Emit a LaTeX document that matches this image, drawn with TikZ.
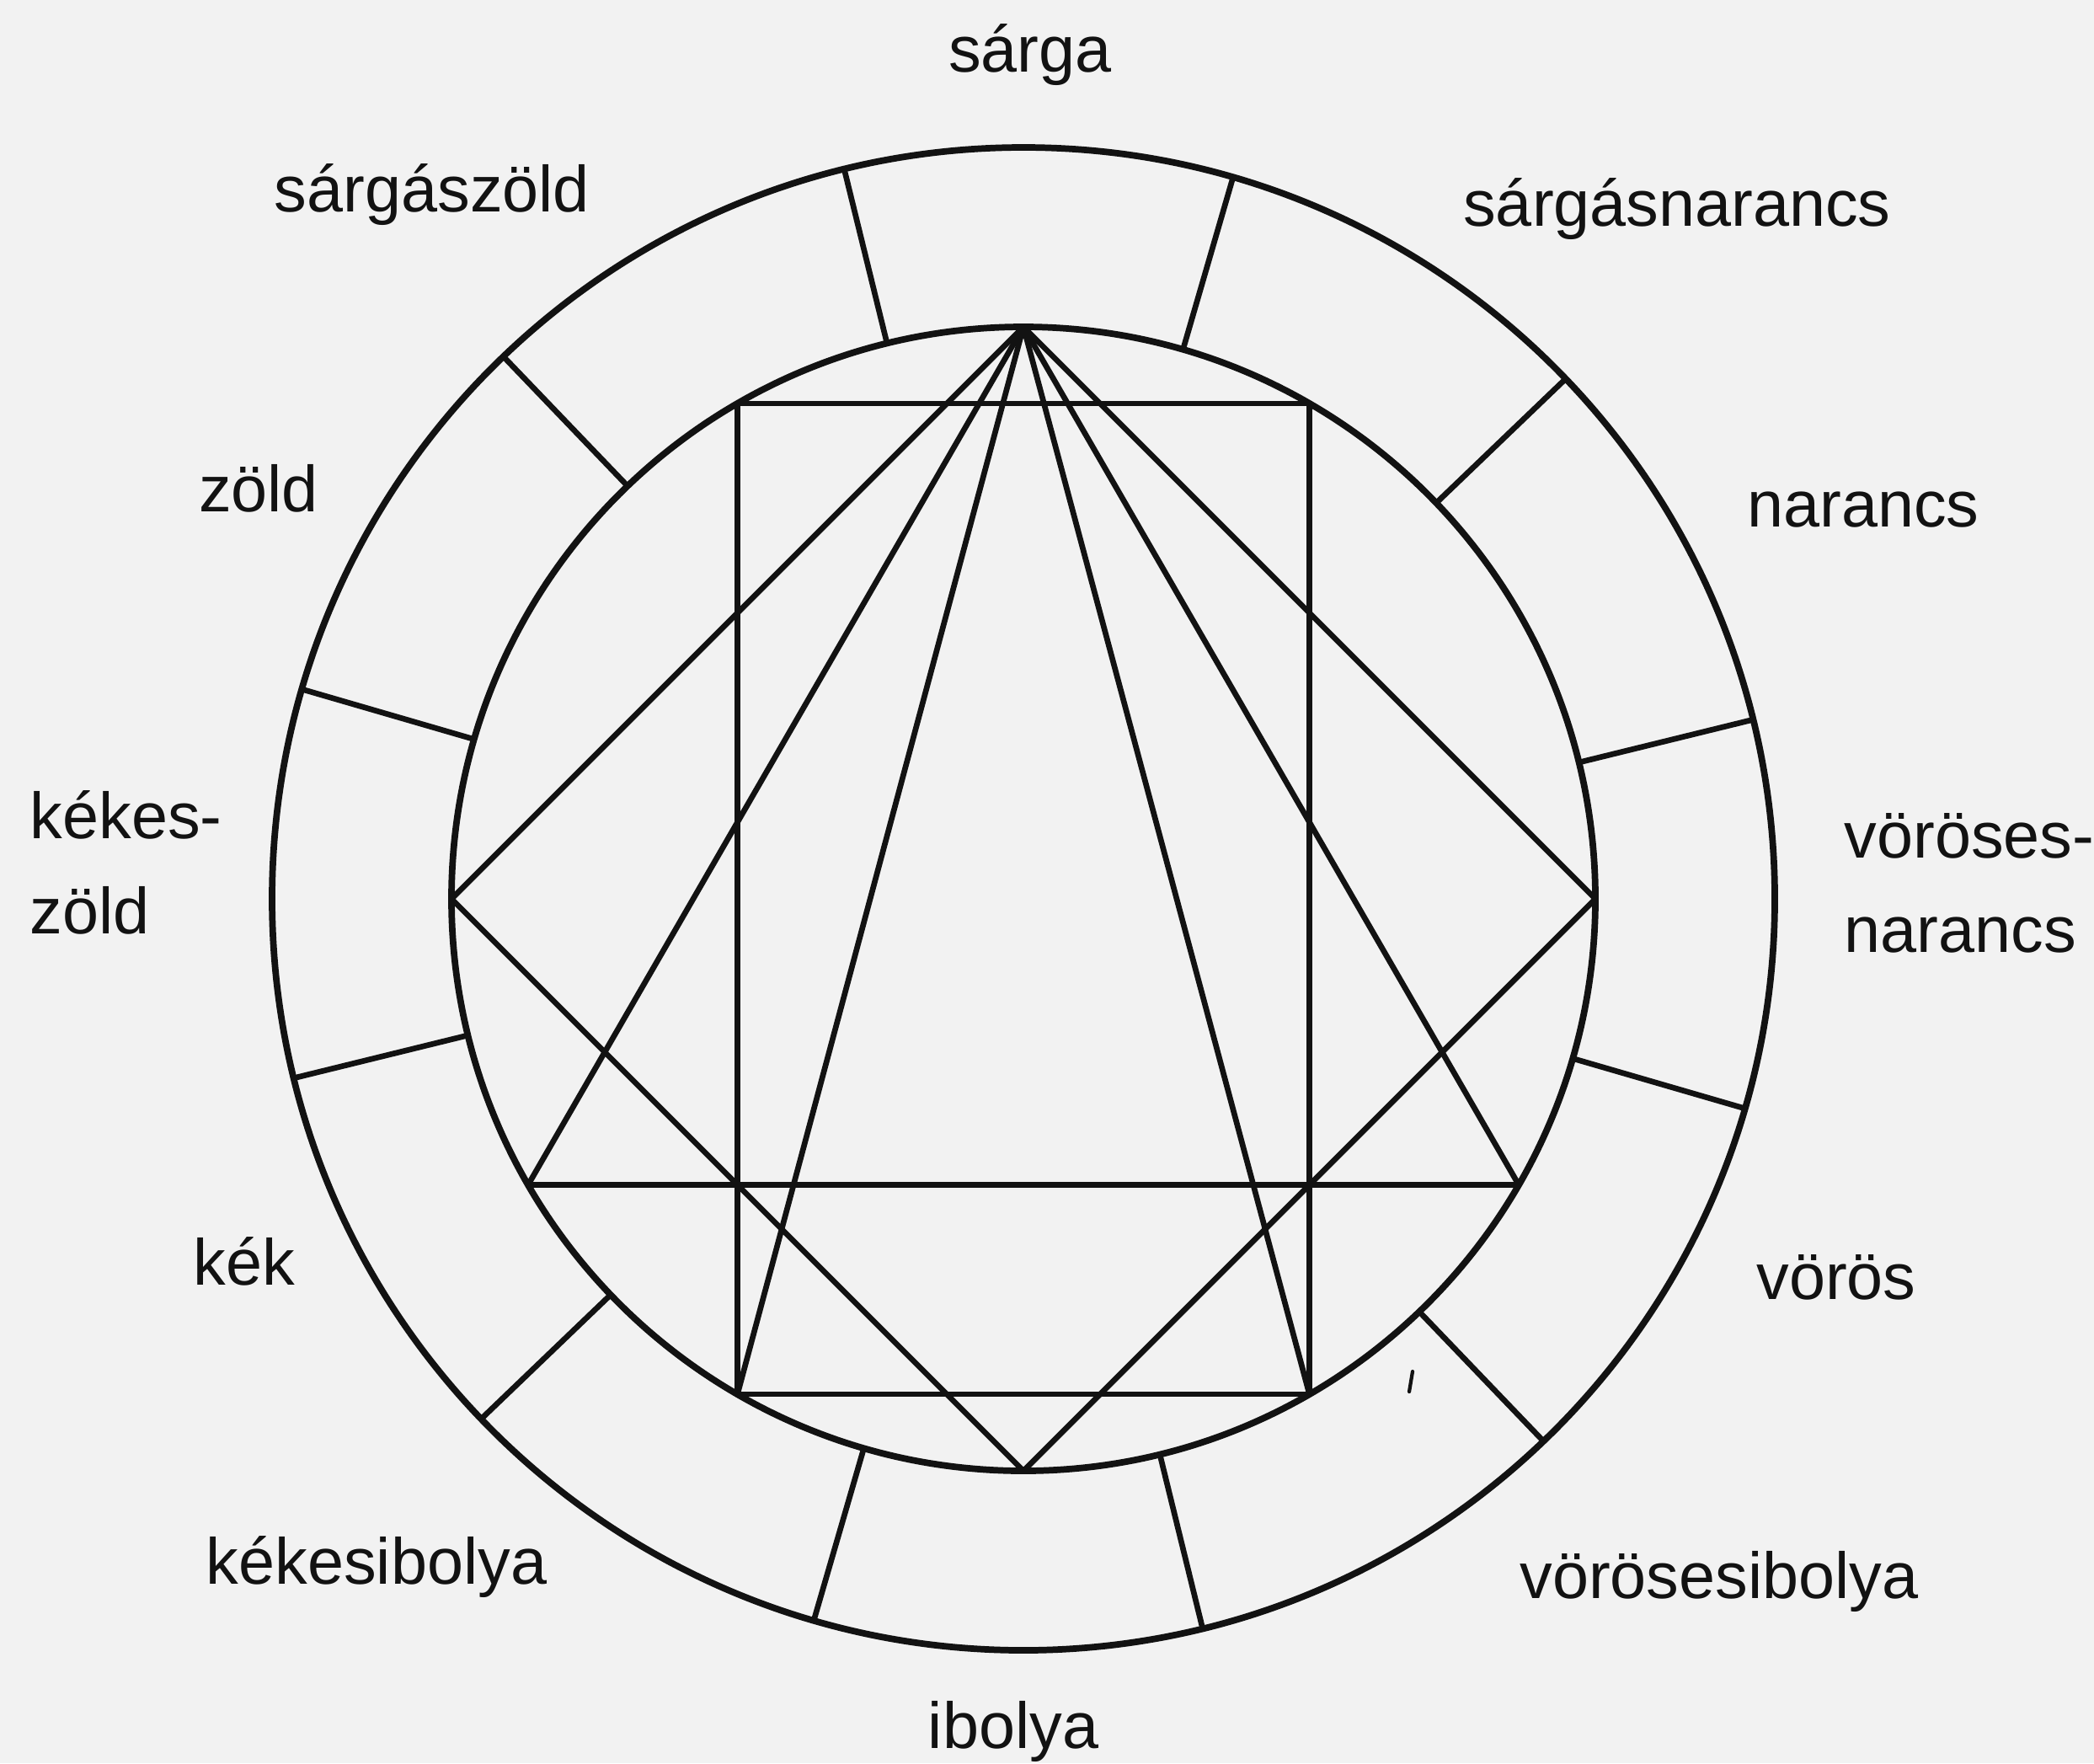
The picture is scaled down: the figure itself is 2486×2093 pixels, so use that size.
\documentclass[tikz,border=0pt]{standalone}
\usepackage{fontspec}
\setmainfont{Liberation Sans}
\usetikzlibrary{calc}
\definecolor{bgcol}{RGB}{242,242,242}
\definecolor{ink}{RGB}{18,18,18}
\begin{document}
\begin{tikzpicture}[x=0.01cm,y=0.01cm,
  ring/.style={line width=2.2pt, draw=ink},
  chord/.style={line width=1.9pt, draw=ink, line join=round},
  divider/.style={line width=1.9pt, draw=ink},
  lbl/.style={font=\fontsize{22}{26}\selectfont, text=ink, inner sep=0pt, anchor=base},
  lblw/.style={lbl, anchor=base west}]
\fill[bgcol] (0,0) rectangle (2486,-2093);
\useasboundingbox (0,0) rectangle (2486,-2093);
\coordinate (C) at (1215,-1067);
% ring
\draw[ring] (C) circle (892);
\draw[ring] (C) circle (679);
\foreach \a in {15,45,...,345}
  \draw[divider] ($(C)+(\a-1.2:679)$) -- ($(C)+(\a-1.2:892)$);
% vertices on the inner circle
\foreach \a in {0,30,...,330}
  \coordinate (P\a) at ($(C)+(\a:679)$);
% rectangle
\draw[chord] (P120) -- (P60) -- (P300) -- (P240) -- cycle;
% square
\draw[chord] (P90) -- (P0) -- (P270) -- (P180) -- cycle;
% triangle
\draw[chord] (P90) -- (P330) -- (P210) -- cycle;
% lines from the apex to the lower rectangle corners
\draw[chord] (P90) -- (P240);
\draw[chord] (P90) -- (P300);
% small mark
\draw[line width=1.2pt, draw=ink, line cap=round] (1677,-1628) -- (1673,-1652);
% labels
\node[lbl] (sarga) at (1223,-85) {sárga};
\node[lbl] (sargaszold) at (513,-251) {sárgászöld};
\node[lbl] (sargasnarancs) at (1991,-268) {sárgásnarancs};
\node[lbl] (zold) at (307,-607) {zöld};
\node[lbl] (narancs) at (2212,-625) {narancs};
\node[lblw] (kekesA) at (35,-995) {kékes-};
\node[lblw] (kekesB) at (35,-1108) {zöld};
\node[lblw] (vorosesA) at (2189,-1018) {vöröses-};
\node[lblw] (vorosesB) at (2189,-1130) {narancs};
\node[lbl] (kek) at (290,-1525) {kék};
\node[lbl] (voros) at (2180,-1542) {vörös};
\node[lbl] (kekesibolya) at (447,-1880) {kékesibolya};
\node[lbl] (vorosesibolya) at (2041,-1897) {vörösesibolya};
\node[lbl] (ibolya) at (1203,-2075) {ibolya};
\end{tikzpicture}
\end{document}
